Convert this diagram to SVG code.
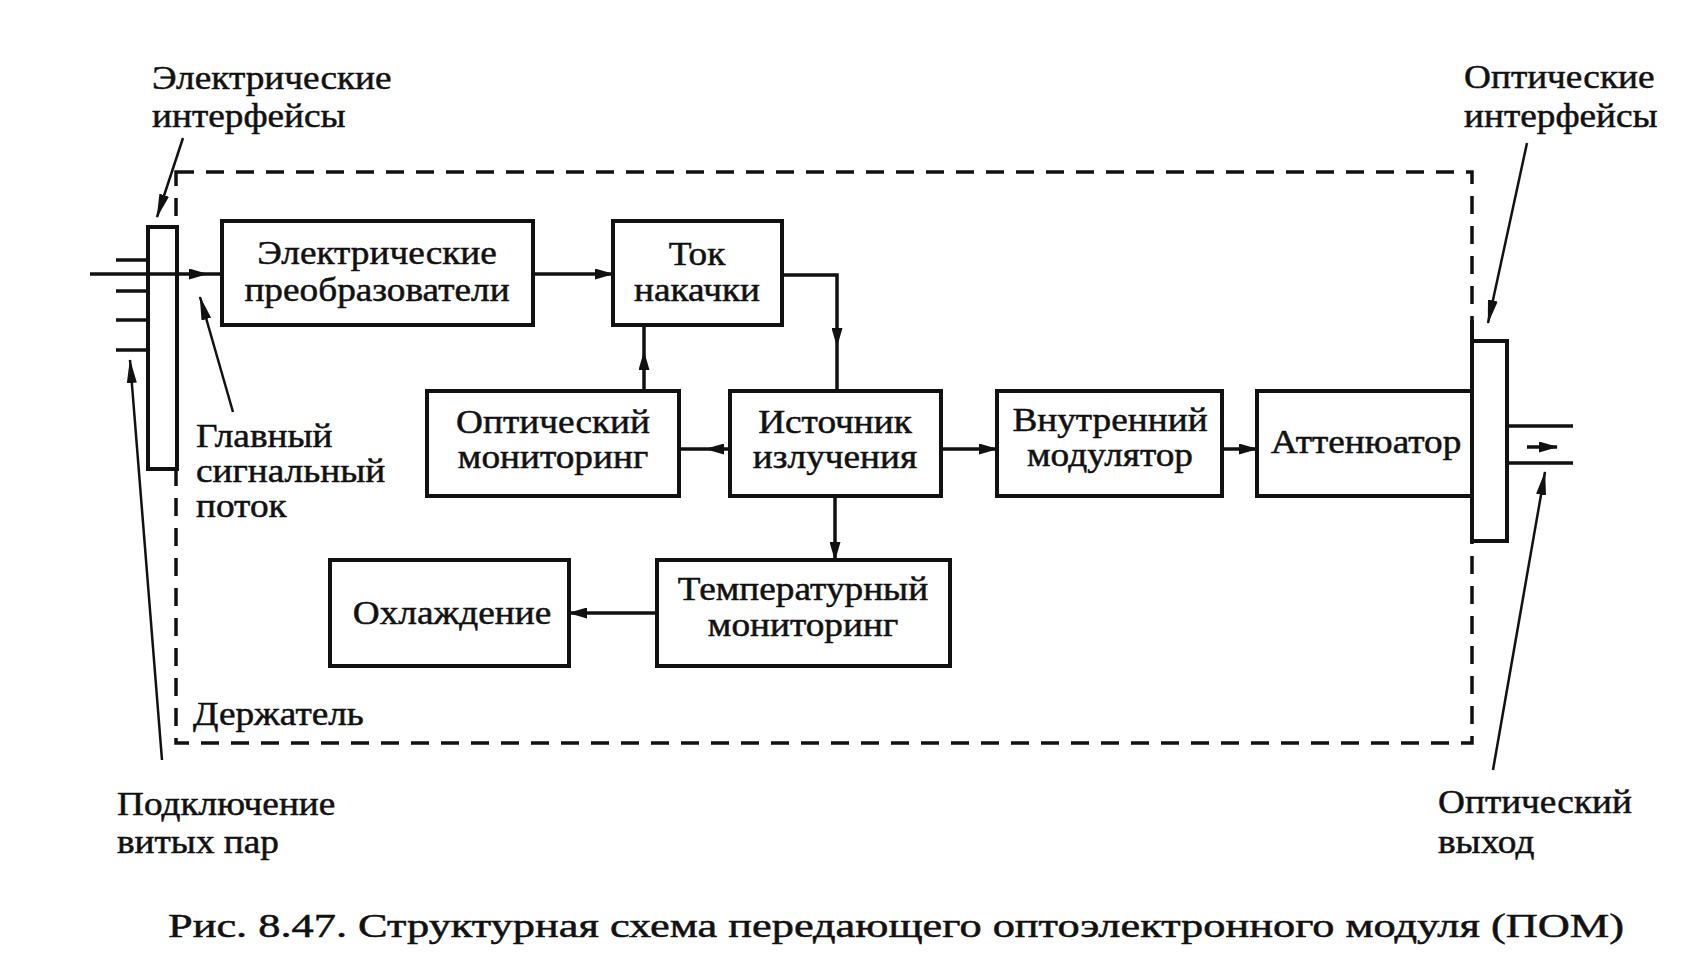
<svg xmlns="http://www.w3.org/2000/svg" width="1698" height="967" viewBox="0 0 1698 967">
<style>
  .box{fill:#fff;stroke:#111;stroke-width:4}
  .t{font-family:"Liberation Serif","Times New Roman",serif;font-size:33px;fill:#111;stroke:#111;stroke-width:0.5;text-anchor:middle}
  .l{font-family:"Liberation Serif","Times New Roman",serif;font-size:33px;fill:#111;stroke:#111;stroke-width:0.5}
  .c{fill:none;stroke:#111;stroke-width:3.5}
  .p{fill:none;stroke:#111;stroke-width:2.5}
  .d{fill:none;stroke:#111;stroke-width:3.5;stroke-dasharray:18 12}
</style>
<defs>
  <marker id="ah" markerWidth="19" markerHeight="11" refX="18" refY="5.5" orient="auto" markerUnits="userSpaceOnUse">
    <path d="M0,0 L19,5.5 L0,11 z" fill="#111"/>
  </marker>
  <marker id="ap" markerWidth="24" markerHeight="10" refX="23" refY="5" orient="auto" markerUnits="userSpaceOnUse">
    <path d="M0,0 L24,5 L0,10 z" fill="#111"/>
  </marker>
</defs>
<rect width="1698" height="967" fill="#fff"/>

<g id="holder">
  <path class="d" d="M176,172 L1472,172 L1472,743 L176,743 Z"/>
</g>

<g id="elec-interface">
  <rect x="148" y="227" width="29" height="242" fill="#fff" stroke="#111" stroke-width="4"/>
  <path d="M116,260 H148 M116,291 H148 M116,320 H148 M116,350 H148" stroke="#111" stroke-width="3.5"/>
</g>

<g id="opt-interface">
  <rect x="1472" y="341" width="35" height="200" fill="#fff" stroke="#111" stroke-width="4"/>
  <path d="M1472,320 V341" stroke="#111" stroke-width="4"/>
  <path d="M1507,426 H1573 M1507,463 H1573" stroke="#111" stroke-width="3.5"/>
</g>

<g id="connectors">
  <path class="c" d="M90,274 L207,274" marker-end="url(#ah)"/>
  <path class="c" d="M207,274 L222,274"/>
  <path class="c" d="M533,274 L613,274" marker-end="url(#ah)"/>
  <path class="c" d="M782,275 L837,275 L837,346" marker-end="url(#ah)"/>
  <path class="c" d="M837,346 L837,391"/>
  <path class="c" d="M644,391 L644,352" marker-end="url(#ah)"/>
  <path class="c" d="M644,352 L644,325"/>
  <path class="c" d="M730,449 L706,449" marker-end="url(#ah)"/>
  <path class="c" d="M706,449 L679,449"/>
  <path class="c" d="M941,449 L997,449" marker-end="url(#ah)"/>
  <path class="c" d="M1222,449 L1257,449" marker-end="url(#ah)"/>
  <path class="c" d="M835,496 L835,560" marker-end="url(#ah)"/>
  <path class="c" d="M657,613 L569,613" marker-end="url(#ah)"/>
  <path class="c" d="M1527,447 L1557,447" marker-end="url(#ah)"/>
  <path class="p" d="M183,138 L157,217" marker-end="url(#ap)"/>
  <path class="p" d="M233,412 L200,297" marker-end="url(#ap)"/>
  <path class="p" d="M162,760 L130,360" marker-end="url(#ap)"/>
  <path class="p" d="M1527,143 L1488,323" marker-end="url(#ap)"/>
  <path class="p" d="M1493,770 L1545,472" marker-end="url(#ap)"/>
</g>

<g id="n-elconv">
  <rect class="box" x="222" y="221" width="311" height="104"/>
  <text class="t" transform="translate(377,264) scale(1.13,1)">Электрические</text>
  <text class="t" transform="translate(377,301) scale(1.13,1)">преобразователи</text>
</g>
<g id="n-pump">
  <rect class="box" x="613" y="221" width="169" height="104"/>
  <text class="t" transform="translate(697,265) scale(1.13,1)">Ток</text>
  <text class="t" transform="translate(697,301) scale(1.13,1)">накачки</text>
</g>
<g id="n-optmon">
  <rect class="box" x="427" y="391" width="252" height="105"/>
  <text class="t" transform="translate(553,433) scale(1.13,1)">Оптический</text>
  <text class="t" transform="translate(553,468) scale(1.13,1)">мониторинг</text>
</g>
<g id="n-source">
  <rect class="box" x="730" y="391" width="211" height="105"/>
  <text class="t" transform="translate(835,433) scale(1.13,1)">Источник</text>
  <text class="t" transform="translate(835,468) scale(1.13,1)">излучения</text>
</g>
<g id="n-mod">
  <rect class="box" x="997" y="391" width="225" height="105"/>
  <text class="t" transform="translate(1110,431) scale(1.13,1)">Внутренний</text>
  <text class="t" transform="translate(1110,466) scale(1.13,1)">модулятор</text>
</g>
<g id="n-att">
  <rect class="box" x="1257" y="391" width="215" height="105"/>
  <text class="t" transform="translate(1366,453) scale(1.13,1)">Аттенюатор</text>
</g>
<g id="n-temp">
  <rect class="box" x="657" y="560" width="293" height="106"/>
  <text class="t" transform="translate(803,600) scale(1.13,1)">Температурный</text>
  <text class="t" transform="translate(803,636) scale(1.13,1)">мониторинг</text>
</g>
<g id="n-cool">
  <rect class="box" x="330" y="560" width="239" height="106"/>
  <text class="t" transform="translate(452,624) scale(1.13,1)">Охлаждение</text>
</g>

<g id="labels">
  <text class="l" transform="translate(152,89) scale(1.13,1)">Электрические</text>
  <text class="l" transform="translate(152,127) scale(1.13,1)">интерфейсы</text>
  <text class="l" transform="translate(196,447) scale(1.13,1)">Главный</text>
  <text class="l" transform="translate(196,482) scale(1.13,1)">сигнальный</text>
  <text class="l" transform="translate(196,517) scale(1.13,1)">поток</text>
  <text class="l" transform="translate(193,725) scale(1.13,1)">Держатель</text>
  <text class="l" transform="translate(117,815) scale(1.13,1)">Подключение</text>
  <text class="l" transform="translate(117,853) scale(1.13,1)">витых пар</text>
  <text class="l" transform="translate(1464,88) scale(1.13,1)">Оптические</text>
  <text class="l" transform="translate(1464,127) scale(1.13,1)">интерфейсы</text>
  <text class="l" transform="translate(1438,813) scale(1.13,1)">Оптический</text>
  <text class="l" transform="translate(1438,853) scale(1.13,1)">выход</text>
  <text class="l" x="168" y="937" font-size="46" textLength="1456" lengthAdjust="spacingAndGlyphs">Рис. 8.47. Структурная схема передающего оптоэлектронного модуля (ПОМ)</text>
</g>
</svg>
